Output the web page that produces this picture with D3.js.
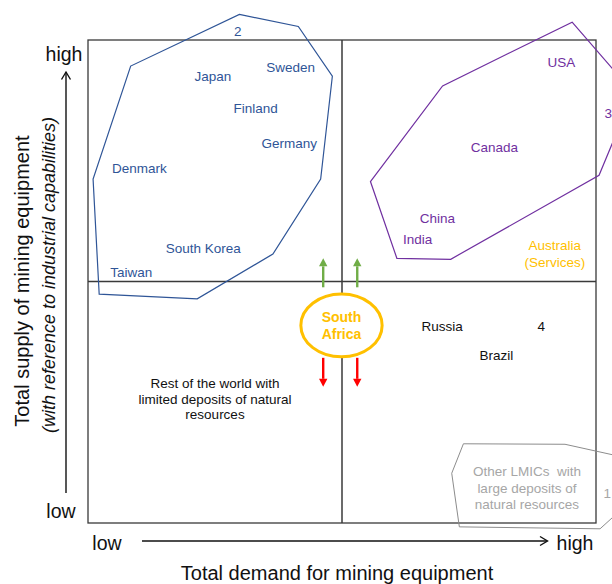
<!DOCTYPE html>
<html>
<head>
<meta charset="utf-8">
<script src="https://cdn.jsdelivr.net/npm/d3@7"></script>
<style>
  html, body { margin: 0; padding: 0; background: #fff; }
  svg { display: block; font-family: "Liberation Sans", Arial, sans-serif; }
</style>
</head>
<body>
<svg id="chart" width="612" height="584"></svg>
<script>
// Positions are on a 0–10 scale: demand (x) and supply (y), 5 = quadrant split.

// Cluster 2: high supply, low demand
const cluster2Outline = [[2.98,10.53],[4.14,10.28],[4.81,9.25],[4.58,7.12],[3.64,5.57],[2.15,4.64],[0.22,4.74],[0.10,7.12],[0.84,9.46]];
const cluster2Names = ["Japan","Sweden","Finland","Germany","Denmark","South Korea","Taiwan"];
const cluster2X = [2.46,3.99,3.30,3.96,1.01,2.27,0.85];
const cluster2Y = [9.24,9.43,8.59,7.86,7.34,5.69,5.19];
const cluster2Tag = [2.95,10.19];

// Cluster 3: high supply, high demand
const cluster3Outline = [[9.53,10.37],[10.57,9.11],[10.57,8.49],[10.06,7.20],[7.14,5.46],[6.08,5.48],[5.56,7.07],[6.98,9.05]];
const cluster3Names = ["USA","Canada","China","India"];
const cluster3X = [9.32,8.00,6.88,6.49];
const cluster3Y = [9.53,7.78,6.31,5.87];
const cluster3Tag = [10.24,8.48];

// Cluster 4: low supply, high demand
const cluster4Names = ["Russia","Brazil"];
const cluster4X = [6.97,8.04];
const cluster4Y = [4.08,3.48];
const cluster4Tag = [8.92,4.08];

// Cluster 1: other LMICs
const cluster1Outline = [[7.39,1.64],[9.39,1.63],[10.51,1.37],[10.51,0.29],[10.08,-0.12],[7.31,-0.08],[7.16,1.03]];
const cluster1Text = ["Other LMICs\u00a0 with","large deposits of","natural resources"];
const cluster1Pos = [8.64,0.72];
const cluster1Tag = [10.22,0.62];

// Services hub and rest of world
const servicesText = ["Australia","(Services)"];
const servicesPos = [9.19,5.57];
const restText = ["Rest of the world with","limited deposits of natural","resources"];
const restPos = [2.50,2.57];

// South Africa and its possible moves
const focusText = ["South","Africa"];
const focusPos = [4.99,4.09];
const focusRadius = [0.80,0.65];
const moveX = [4.63,5.30];
const moveUp = [4.88,5.48];
const moveDown = [3.42,2.82];

// Axis wording
const xAxisEnds = ["low","high"];
const yAxisEnds = ["low","high"];
const xTitle = "Total demand for mining equipment";
const yTitle = "Total supply of mining equipment";
const ySubtitle = "(with reference to industrial capabilities)";

const BLUE = "#2F5597", PURPLE = "#7030A0", ORANGE = "#FFC000",
      GREY = "#a6a6a6", GREEN = "#70AD47", RED = "#FF0000", INK = "#111";

const svg = d3.select("#chart");
const box = { left: 88, right: 596, top: 40, bottom: 523 };
const x = d3.scaleLinear().domain([0, 10]).range([box.left, box.right]);
const y = d3.scaleLinear().domain([0, 10]).range([box.bottom, box.top]);
const LABEL = 13.5;

// Frame and quadrant dividers
svg.append("rect")
  .attr("x", x(0)).attr("y", y(10))
  .attr("width", x(10) - x(0)).attr("height", y(0) - y(10))
  .attr("fill", "none").attr("stroke", "#3a3a3a").attr("stroke-width", 1.3);
svg.append("line").attr("x1", x(5)).attr("x2", x(5)).attr("y1", y(10)).attr("y2", y(0))
  .attr("stroke", "#3a3a3a").attr("stroke-width", 1.5);
svg.append("line").attr("x1", x(0)).attr("x2", x(10)).attr("y1", y(5)).attr("y2", y(5))
  .attr("stroke", "#3a3a3a").attr("stroke-width", 1.5);

const outline = d3.line().x(d => x(d[0])).y(d => y(d[1])).curve(d3.curveLinearClosed);

function label(text, pos, color, opts = {}) {
  const lines = Array.isArray(text) ? text : [text];
  const lh = opts.lineHeight || 17;
  const size = opts.size || LABEL;
  const t = svg.append("text")
    .attr("x", x(pos[0])).attr("y", y(pos[1]))
    .attr("text-anchor", "middle")
    .attr("font-size", size)
    .attr("font-weight", opts.weight || "normal")
    .attr("fill", color);
  const off = -(lines.length - 1) / 2 * lh;
  lines.forEach((s, i) => {
    t.append("tspan").attr("x", x(pos[0]))
      .attr("dy", i === 0 ? (off + 0.35 * size) : lh)
      .text(s);
  });
  return t;
}

// Cluster outlines
svg.append("path").datum(cluster2Outline).attr("d", outline)
  .attr("fill", "none").attr("stroke", BLUE).attr("stroke-width", 1.2);
svg.append("path").datum(cluster3Outline).attr("d", outline)
  .attr("fill", "none").attr("stroke", PURPLE).attr("stroke-width", 1.2);
svg.append("path").datum(cluster1Outline).attr("d", outline)
  .attr("fill", "none").attr("stroke", "#8c8c8c").attr("stroke-width", 1);

// Country names
cluster2Names.forEach((n, i) => label(n, [cluster2X[i], cluster2Y[i]], BLUE));
label("2", cluster2Tag, BLUE);
cluster3Names.forEach((n, i) => label(n, [cluster3X[i], cluster3Y[i]], PURPLE));
label("3", cluster3Tag, PURPLE);
cluster4Names.forEach((n, i) => label(n, [cluster4X[i], cluster4Y[i]], INK));
label("4", cluster4Tag, INK);
label(cluster1Text, cluster1Pos, GREY, { lineHeight: 16.5, size: 13.5 });
label("1", cluster1Tag, GREY);
label(servicesText, servicesPos, ORANGE, { lineHeight: 16.5 });
label(restText, restPos, INK, { lineHeight: 15.5 });

// South Africa
svg.append("ellipse")
  .attr("cx", x(focusPos[0])).attr("cy", y(focusPos[1]))
  .attr("rx", x(focusRadius[0]) - x(0)).attr("ry", y(0) - y(focusRadius[1]))
  .attr("fill", "#fff").attr("stroke", ORANGE).attr("stroke-width", 3);
label(focusText, focusPos, ORANGE, { weight: "bold", lineHeight: 17.4, size: 14 });

// Up / down movement arrows
function blockArrow(xv, from, to, color) {
  const x0 = x(xv), y0 = y(from), y1 = y(to);
  const dir = Math.sign(y1 - y0);
  const head = 8, half = 4.2;
  svg.append("line").attr("x1", x0).attr("x2", x0)
    .attr("y1", y0).attr("y2", y1 - dir * head)
    .attr("stroke", color).attr("stroke-width", 2.4);
  svg.append("path")
    .attr("d", `M${x0 - half},${y1 - dir * head} L${x0 + half},${y1 - dir * head} L${x0},${y1} Z`)
    .attr("fill", color);
}
moveX.forEach(xv => blockArrow(xv, moveUp[0], moveUp[1], GREEN));
moveX.forEach(xv => blockArrow(xv, moveDown[0], moveDown[1], RED));

// Axis arrows
const AX = 19.5;
svg.append("line").attr("x1", 142).attr("x2", 547).attr("y1", 541).attr("y2", 541)
  .attr("stroke", INK).attr("stroke-width", 1.4);
svg.append("path").attr("d", "M540,536.5 L547.5,541 L540,545.5")
  .attr("fill", "none").attr("stroke", INK).attr("stroke-width", 1.4);
svg.append("line").attr("x1", 66).attr("x2", 66).attr("y1", 493).attr("y2", 72)
  .attr("stroke", INK).attr("stroke-width", 1.4);
svg.append("path").attr("d", "M61.5,79.5 L66,72 L70.5,79.5")
  .attr("fill", "none").attr("stroke", INK).attr("stroke-width", 1.4);

svg.append("text").attr("x", 107).attr("y", 550).attr("text-anchor", "middle")
  .attr("font-size", AX).attr("fill", INK).text(xAxisEnds[0]);
svg.append("text").attr("x", 575).attr("y", 550).attr("text-anchor", "middle")
  .attr("font-size", AX).attr("fill", INK).text(xAxisEnds[1]);
svg.append("text").attr("x", 61).attr("y", 518).attr("text-anchor", "middle")
  .attr("font-size", AX).attr("fill", INK).text(yAxisEnds[0]);
svg.append("text").attr("x", 64).attr("y", 61).attr("text-anchor", "middle")
  .attr("font-size", AX).attr("fill", INK).text(yAxisEnds[1]);

svg.append("text").attr("x", 337).attr("y", 580).attr("text-anchor", "middle")
  .attr("font-size", 20).attr("fill", INK).text(xTitle);
svg.append("text").attr("transform", "translate(29,281) rotate(-90)")
  .attr("text-anchor", "middle").attr("font-size", 20).attr("fill", INK).text(yTitle);
svg.append("text").attr("transform", "translate(55,275) rotate(-90)")
  .attr("text-anchor", "middle").attr("font-size", 18).attr("font-style", "italic")
  .attr("fill", INK).text(ySubtitle);
</script>
</body>
</html>
